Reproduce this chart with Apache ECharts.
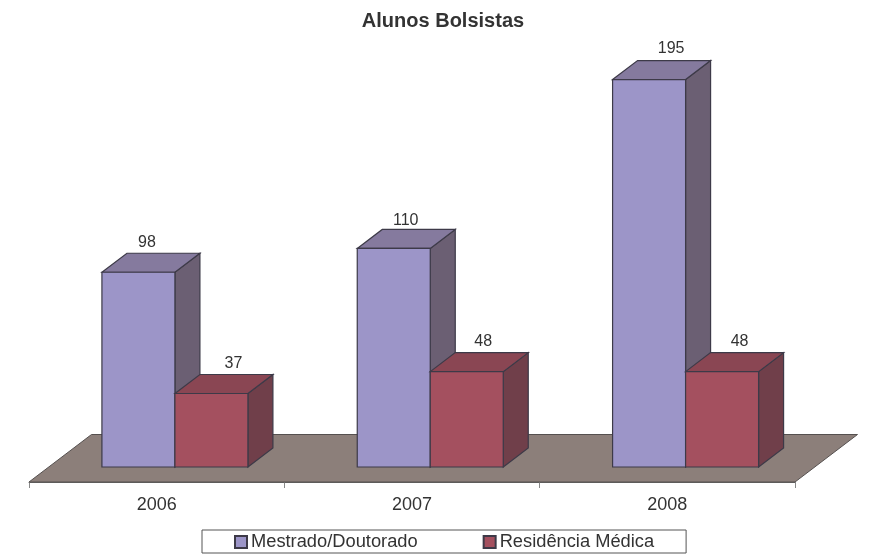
<!DOCTYPE html>
<html>
<head>
<meta charset="utf-8">
<style>
  html, body { margin: 0; padding: 0; background: #fff; }
  #chart { width: 874px; height: 554px; }
</style>
<script src="https://cdn.jsdelivr.net/npm/echarts@6/dist/echarts.min.js"></script>
</head>
<body>
<div id="chart"></div>
<script>
// Dados
const anos = ['2006', '2007', '2008'];
const mestrado = [98, 110, 195];
const residencia = [37, 48, 48];

// Aparência das barras em falso 3D
const larguraBarra = 73;
const fundoX = 25;
const fundoY = 19;
const contorno = '#3d3a48';
const fonte = '"Liberation Sans", Arial, sans-serif';

// Deslocamento de cada rótulo em relação à frente da barra: [x, y]
const ajusteMestrado = [[8.5, -11], [12, -8.5], [22, -12]];
const ajusteResidencia = [[22, -11], [16.5, -11], [17.5, -11]];

function faceBarra(pontos, cor) {
    return {
        type: 'polygon',
        shape: { points: pontos },
        style: { fill: cor, stroke: contorno, lineWidth: 1.2 }
    };
}

// Cria o renderItem de uma série; lado = 0 à esquerda do centro deslocado, 1 à direita
function barra3d(lado, cores, ajustes) {
    return function (params, api) {
        const topo = api.coord([api.value(0), api.value(1)]);
        const base = api.coord([api.value(0), 0]);
        const esq = topo[0] + 18.25 + (lado - 1) * larguraBarra;
        const dir = esq + larguraBarra;
        const yt = topo[1];
        const yb = base[1];
        const ajuste = ajustes[params.dataIndex];
        return {
            type: 'group',
            children: [
                faceBarra([[dir, yt], [dir + fundoX, yt - fundoY], [dir + fundoX, yb - fundoY], [dir, yb]], cores.lado),
                faceBarra([[esq, yt], [esq + fundoX, yt - fundoY], [dir + fundoX, yt - fundoY], [dir, yt]], cores.topo),
                faceBarra([[esq, yt], [dir, yt], [dir, yb], [esq, yb]], cores.frente),
                {
                    type: 'text',
                    style: {
                        x: (esq + dir) / 2 + ajuste[0],
                        y: yt - fundoY + ajuste[1],
                        text: String(api.value(1)),
                        fill: '#333',
                        font: '16px ' + fonte,
                        align: 'center',
                        verticalAlign: 'middle'
                    }
                }
            ]
        };
    };
}

// Piso cinza abaixo das barras
function piso(params, api) {
    const c = params.coordSys;
    const yFrente = c.y + c.height;
    const yFundo = yFrente - 47.5;
    const xa = c.x;
    const xb = c.x + c.width;
    return {
        type: 'polygon',
        shape: { points: [[xa, yFrente], [xa + 62.5, yFundo], [xb + 62.5, yFundo], [xb, yFrente]] },
        style: { fill: '#8c7f7a', stroke: '#55504f', lineWidth: 1 }
    };
}

const chart = echarts.init(document.getElementById('chart'));

const option = {
    animation: false,
    title: {
        text: 'Alunos Bolsistas',
        left: 438,
        top: 6,
        textAlign: 'center',
        textStyle: {
            color: '#333',
            fontSize: 20,
            fontWeight: 'bold',
            fontFamily: fonte
        }
    },
    legend: {
        data: ['Mestrado/Doutorado', 'Residência Médica'],
        left: 202,
        top: 530,
        orient: 'horizontal',
        icon: 'rect',
        padding: [3, 32, 2, 32],
        itemGap: 65,
        itemWidth: 12,
        itemHeight: 12,
        borderColor: '#555',
        borderWidth: 1,
        borderRadius: 0,
        backgroundColor: '#fff',
        textStyle: {
            color: '#333',
            fontSize: 18.3,
            fontFamily: fonte,
            padding: [0, 0, 0, -1]
        }
    },
    grid: { left: 29, width: 766, top: 69.6, height: 412.4 },
    xAxis: {
        type: 'category',
        data: anos,
        axisLine: { show: true, onZero: false, lineStyle: { color: '#666', width: 1 } },
        axisTick: { show: true, length: 6, lineStyle: { color: '#888' } },
        axisLabel: {
            color: '#333',
            fontSize: 18,
            margin: 14,
            fontFamily: fonte
        }
    },
    // O zero fica acima da borda frontal do piso, por isso o mínimo negativo
    yAxis: { type: 'value', min: -7.55, max: 200, show: false },
    series: [
        {
            name: 'Piso',
            type: 'custom',
            silent: true,
            z: 1,
            renderItem: piso,
            data: [[0, 0]]
        },
        {
            name: 'Mestrado/Doutorado',
            type: 'custom',
            z: 2,
            itemStyle: { color: '#9c95c8', borderColor: contorno, borderWidth: 1 },
            renderItem: barra3d(0, { frente: '#9c95c8', topo: '#857a9e', lado: '#6b5f73' }, ajusteMestrado),
            data: mestrado.map((v, i) => [i, v])
        },
        {
            name: 'Residência Médica',
            type: 'custom',
            z: 3,
            itemStyle: { color: '#a4505f', borderColor: contorno, borderWidth: 1 },
            renderItem: barra3d(1, { frente: '#a4505f', topo: '#8a4653', lado: '#703f4a' }, ajusteResidencia),
            data: residencia.map((v, i) => [i, v])
        }
    ]
};

chart.setOption(option);
</script>
</body>
</html>
